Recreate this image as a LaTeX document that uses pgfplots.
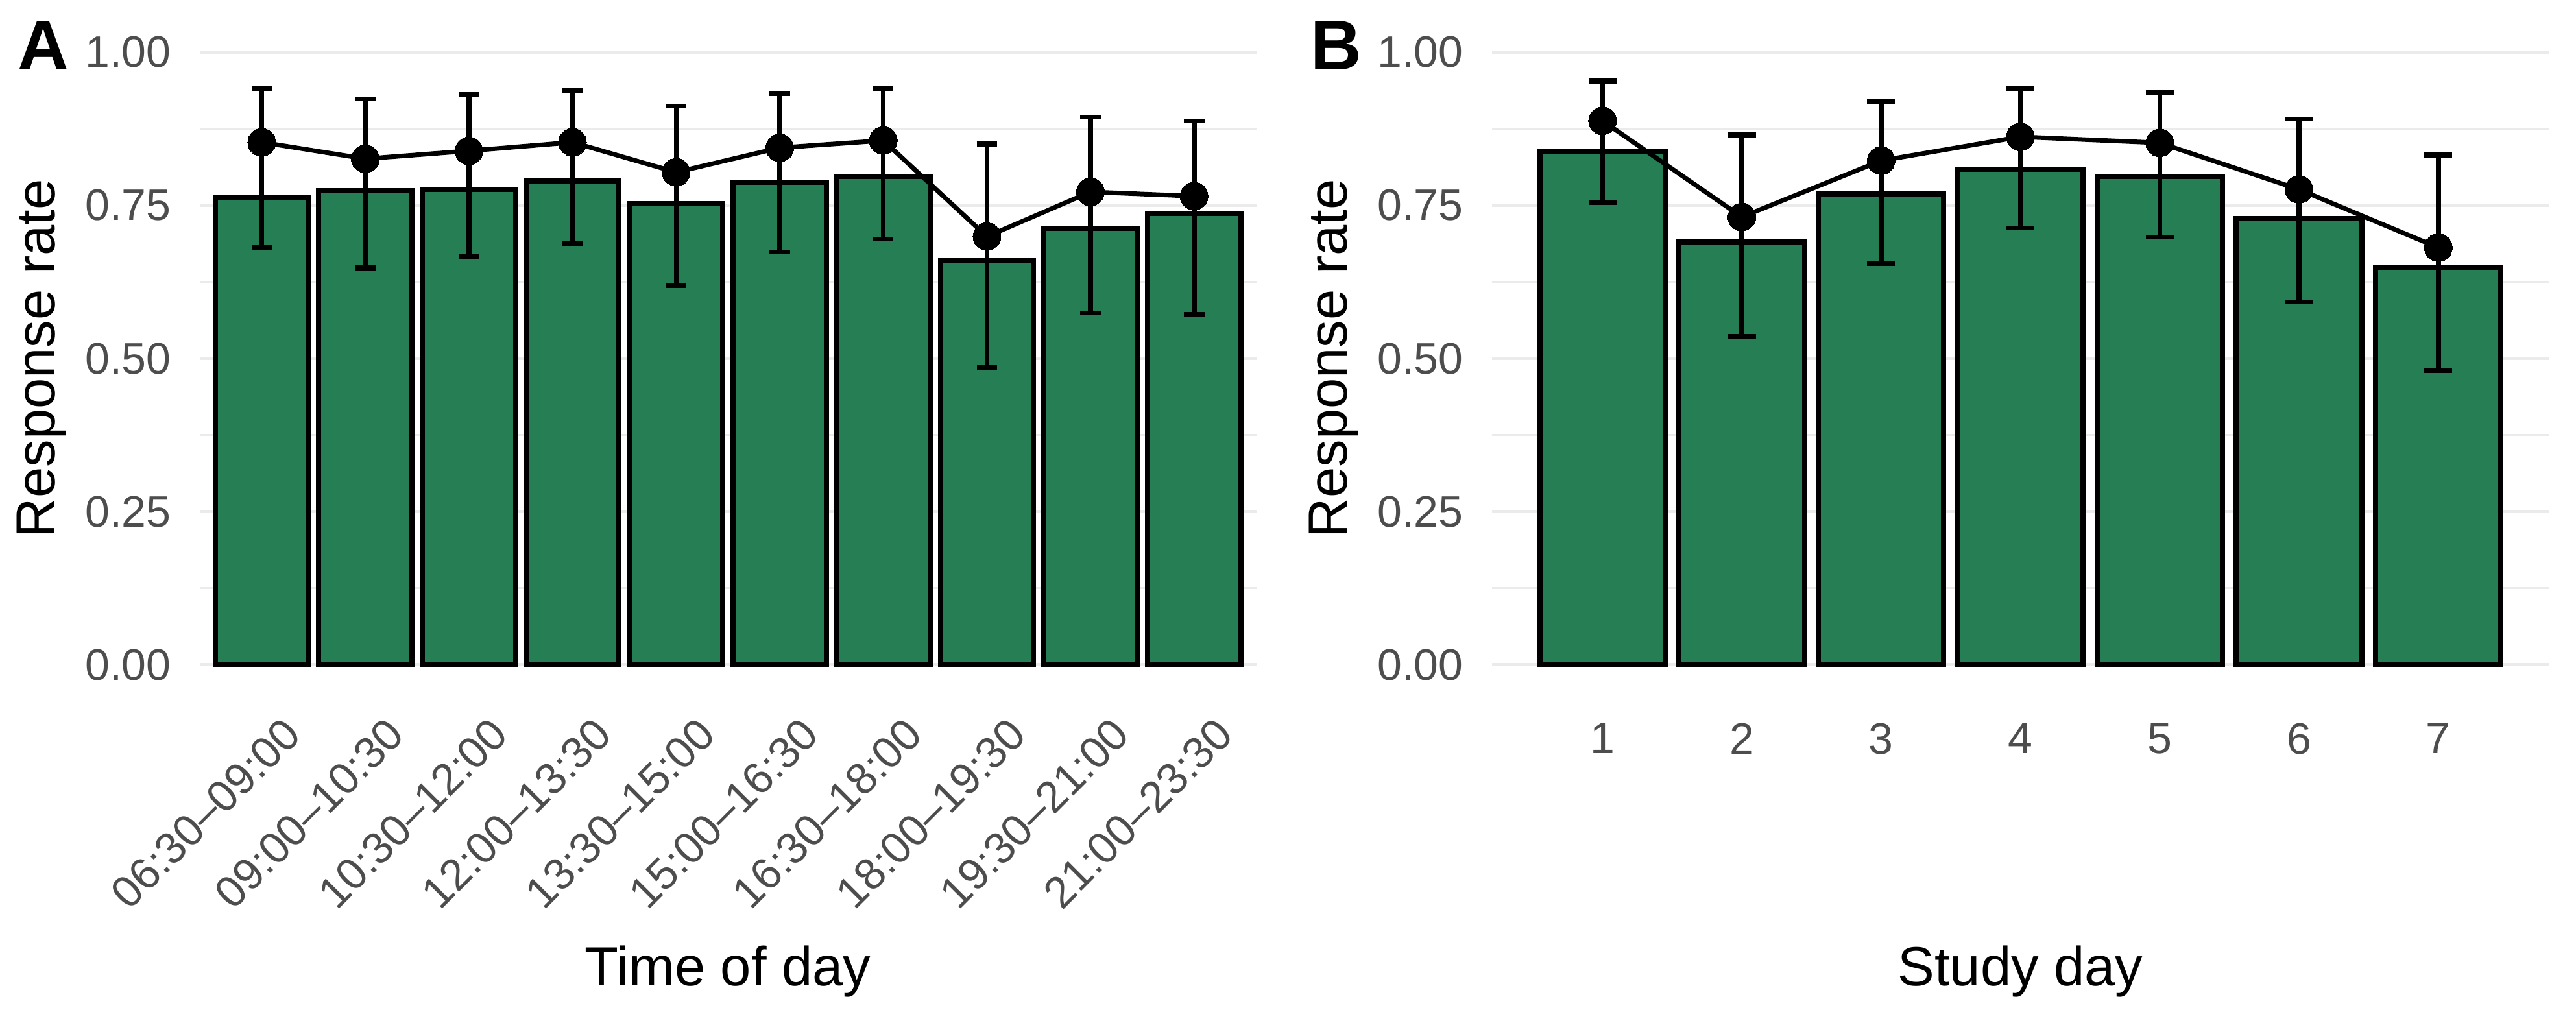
\documentclass[border=0pt]{standalone}
\usepackage{pgfplots}
\pgfplotsset{compat=1.18}
\usepackage{pgfplotstable}
\usepackage{fontspec}
\setmainfont{Liberation Sans}
\definecolor{barcol}{RGB}{37,126,84}
\definecolor{gridcol}{RGB}{235,235,235}
\definecolor{tickcol}{RGB}{77,77,77}

\pgfplotstableread{
x bar pt ep em
1 0.763 0.853 0.087 0.172
2 0.774 0.826 0.098 0.178
3 0.776 0.839 0.092 0.172
4 0.790 0.853 0.085 0.165
5 0.753 0.804 0.108 0.185
6 0.788 0.844 0.089 0.170
7 0.797 0.856 0.084 0.161
8 0.661 0.699 0.151 0.213
9 0.713 0.772 0.122 0.198
10 0.737 0.765 0.123 0.193
}\tabA

\pgfplotstableread{
x bar pt ep em
1 0.838 0.888 0.065 0.133
2 0.690 0.731 0.134 0.195
3 0.769 0.823 0.096 0.168
4 0.809 0.862 0.078 0.149
5 0.797 0.852 0.082 0.154
6 0.728 0.776 0.115 0.184
7 0.649 0.681 0.151 0.201
}\tabB

\pgfplotsset{
  panel/.style={
    scale only axis,
    height=207.68bp,
    ymin=-0.05, ymax=1.05,
    ytick={0,0.25,0.5,0.75,1},
    yticklabels={0.00,0.25,0.50,0.75,1.00},
    minor ytick={0.125,0.375,0.625,0.875},
    ymajorgrids, yminorgrids,
    major grid style={draw=gridcol, line width=0.9bp},
    minor grid style={draw=gridcol, line width=0.45bp},
    axis line style={draw=none},
    major tick length=0pt, minor tick length=0pt,
    tick label style={font=\fontsize{13.6bp}{16bp}\selectfont, text=tickcol},
    yticklabel style={anchor=east, inner sep=0pt, xshift=-8.6bp},
    ylabel={Response rate},
    ylabel style={at={(axis description cs:-0.137,0.5)}, anchor=base, inner sep=0pt,
      font=\fontsize{17bp}{20bp}\selectfont, text=black},
    xlabel style={at={(axis description cs:0.5,-0.4316)}, anchor=base, inner sep=0pt,
      font=\fontsize{17bp}{20bp}\selectfont, text=black},
    clip=false,
  },
  barplot/.style={ybar, bar width=0.9, fill=barcol, draw=black, line width=1.6bp},
}

\begin{document}
\begin{tikzpicture}
\path[use as bounding box] (0,0) rectangle (794.2bp,311.4bp);

\begin{axis}[panel,
  at={(61.52bp,97.04bp)}, anchor=south west,
  width=325.8bp,
  xmin=0.4, xmax=10.6,
  xtick={1,...,10},
  xticklabels={06:30–09:00,09:00–10:30,10:30–12:00,12:00–13:30,13:30–15:00,15:00–16:30,16:30–18:00,18:00–19:30,19:30–21:00,21:00–23:30},
  xticklabel style={rotate=45, anchor=north east, inner sep=0pt, yshift=-8.5bp},
  xlabel={Time of day},
]
\addplot[barplot] table[x=x, y=bar] {\tabA};
\addplot[black, line width=1.4bp, mark=*, mark size=4.3bp,
  mark options={solid, fill=black, draw=black, line width=0pt},
  error bars/.cd, y dir=both, y explicit,
  error bar style={line width=1.5bp, black},
  error mark options={mark size=3.16bp, line width=1.5bp, black, rotate=90}]
  table[x=x, y=pt, y error plus=ep, y error minus=em] {\tabA};
\end{axis}

\begin{axis}[panel,
  at={(459.92bp,97.04bp)}, anchor=south west,
  width=325.98bp,
  xmin=0.205, xmax=7.795,
  xtick={1,...,7},
  xticklabels={1,2,3,4,5,6,7},
  xticklabel style={anchor=north, inner sep=0pt, yshift=-8.4bp},
  xlabel={Study day},
]
\addplot[barplot] table[x=x, y=bar] {\tabB};
\addplot[black, line width=1.4bp, mark=*, mark size=4.3bp,
  mark options={solid, fill=black, draw=black, line width=0pt},
  error bars/.cd, y dir=both, y explicit,
  error bar style={line width=1.5bp, black},
  error mark options={mark size=4.29bp, line width=1.5bp, black, rotate=90}]
  table[x=x, y=pt, y error plus=ep, y error minus=em] {\tabB};
\end{axis}

\node[anchor=base west, inner sep=0pt, font=\fontsize{21.8bp}{26bp}\selectfont\bfseries] at (5.4bp,289.8bp) {A};
\node[anchor=base west, inner sep=0pt, font=\fontsize{21.8bp}{26bp}\selectfont\bfseries] at (403.8bp,289.8bp) {B};
\end{tikzpicture}
\end{document}
